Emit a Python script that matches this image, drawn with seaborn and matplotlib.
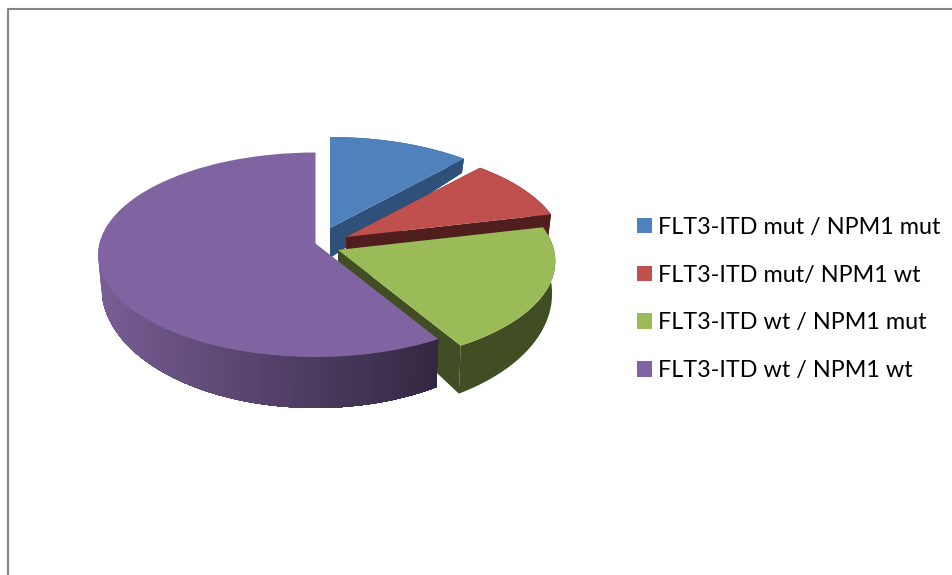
import numpy as np
import matplotlib
matplotlib.use("Agg")
import matplotlib.pyplot as plt
import seaborn as sns
from matplotlib.transforms import Transform

labels = ["FLT3-ITD mut / NPM1 mut", "FLT3-ITD mut/ NPM1 wt",
          "FLT3-ITD wt / NPM1 mut", "FLT3-ITD wt / NPM1 wt"]
values = [11.7, 9.6, 20.1, 58.6]
colors = ["#4f81bd", "#c0504d", "#9bbb59", "#8064a2"]
side_colors = ["#2f5078", "#501f1d", "#414d22", None]

# where each slice's tip sits on the page
tips = [(330, 228), (346, 237), (338, 250), (315.5, 243.5)]
RX, RY, K = 216, 101, 0.11

sns.set_theme(style="white")
plt.rcParams['font.family'] = ['Lato', 'DejaVu Sans']


def project(pts, tip):
    # tilted view, the near side of the pie comes out larger
    pts = np.asarray(pts, dtype=float)
    d = 1 + K * pts[:, 1]
    return np.column_stack([tip[0] + RX * pts[:, 0] / d, tip[1] - RY * pts[:, 1] / d])


def drop(pts, tip):
    # same points on the bottom face of the disc
    pts = np.asarray(pts, dtype=float)
    out = project(pts, tip)
    out[:, 0] = tip[0] + (out[:, 0] - tip[0]) * 0.985
    out[:, 1] += 30 - 21 * pts[:, 1]
    return out


class Tilt(Transform):
    input_dims = 2
    output_dims = 2
    has_inverse = False

    def __init__(self, tip):
        super().__init__()
        self.tip = tip

    def transform_non_affine(self, values):
        return project(values, self.tip)


def side(ax, pts, tip, color, z):
    top = project(pts, tip)
    bottom = drop(pts, tip)
    poly = np.vstack([top, bottom[::-1]])
    ax.fill(poly[:, 0], poly[:, 1], facecolor=color, edgecolor="none", lw=0, zorder=z)


fig = plt.figure(figsize=(9.53, 5.75), dpi=100)
ax = fig.add_axes([0, 0, 1, 1])

wedges, _ = ax.pie(values, colors=colors, startangle=90, counterclock=False)
ax.set_aspect("auto")
ax.set_xlim(0, 953)
ax.set_ylim(575, 0)

# back to front: blue, red, green, purple
for i, w in enumerate(wedges):
    w.set_transform(Tilt(tips[i]) + ax.transData)
    w.set_zorder(i * 10 + 5)
    w.set_linewidth(0)
    w.set_edgecolor("none")
    w.set_clip_on(False)
    a = np.radians(np.linspace(w.theta1, w.theta2, 121))
    rim = np.column_stack([np.cos(a), np.sin(a)])
    if side_colors[i] is not None:
        side(ax, [(0, 0), rim[0]], tips[i], side_colors[i], i * 10)
        side(ax, [(0, 0), rim[-1]], tips[i], side_colors[i], i * 10)
        side(ax, rim, tips[i], side_colors[i], i * 10)
    else:
        # purple wall darkens from left to right, each strip painted over the last
        light = np.array(matplotlib.colors.to_rgb("#7a5f97"))
        dark = np.array(matplotlib.colors.to_rgb("#30263f"))
        order = rim[np.argsort(-rim[:, 0])]
        order = order[order[:, 1] < 0.2]
        for j in range(len(order), 1, -1):
            f = np.clip((order[j - 1, 0] + 1) / 1.55, 0, 1)
            side(ax, order[:j], tips[i], light + (dark - light) * f, i * 10)

# chart frame, cut off at the right and bottom of the picture
ax.plot([8, 8, 953], [575, 9, 9], color="#868686", lw=1.5, zorder=1, clip_on=False)

ax.legend(wedges, labels, loc="center left", bbox_to_anchor=(0.6683, 0.480),
          frameon=False, fontsize=16.8, handlelength=0.65, handleheight=0.65,
          handletextpad=0.27, labelspacing=1.15, labelcolor="black",
          borderpad=0, borderaxespad=0)

plt.savefig("out.png", dpi=100)
